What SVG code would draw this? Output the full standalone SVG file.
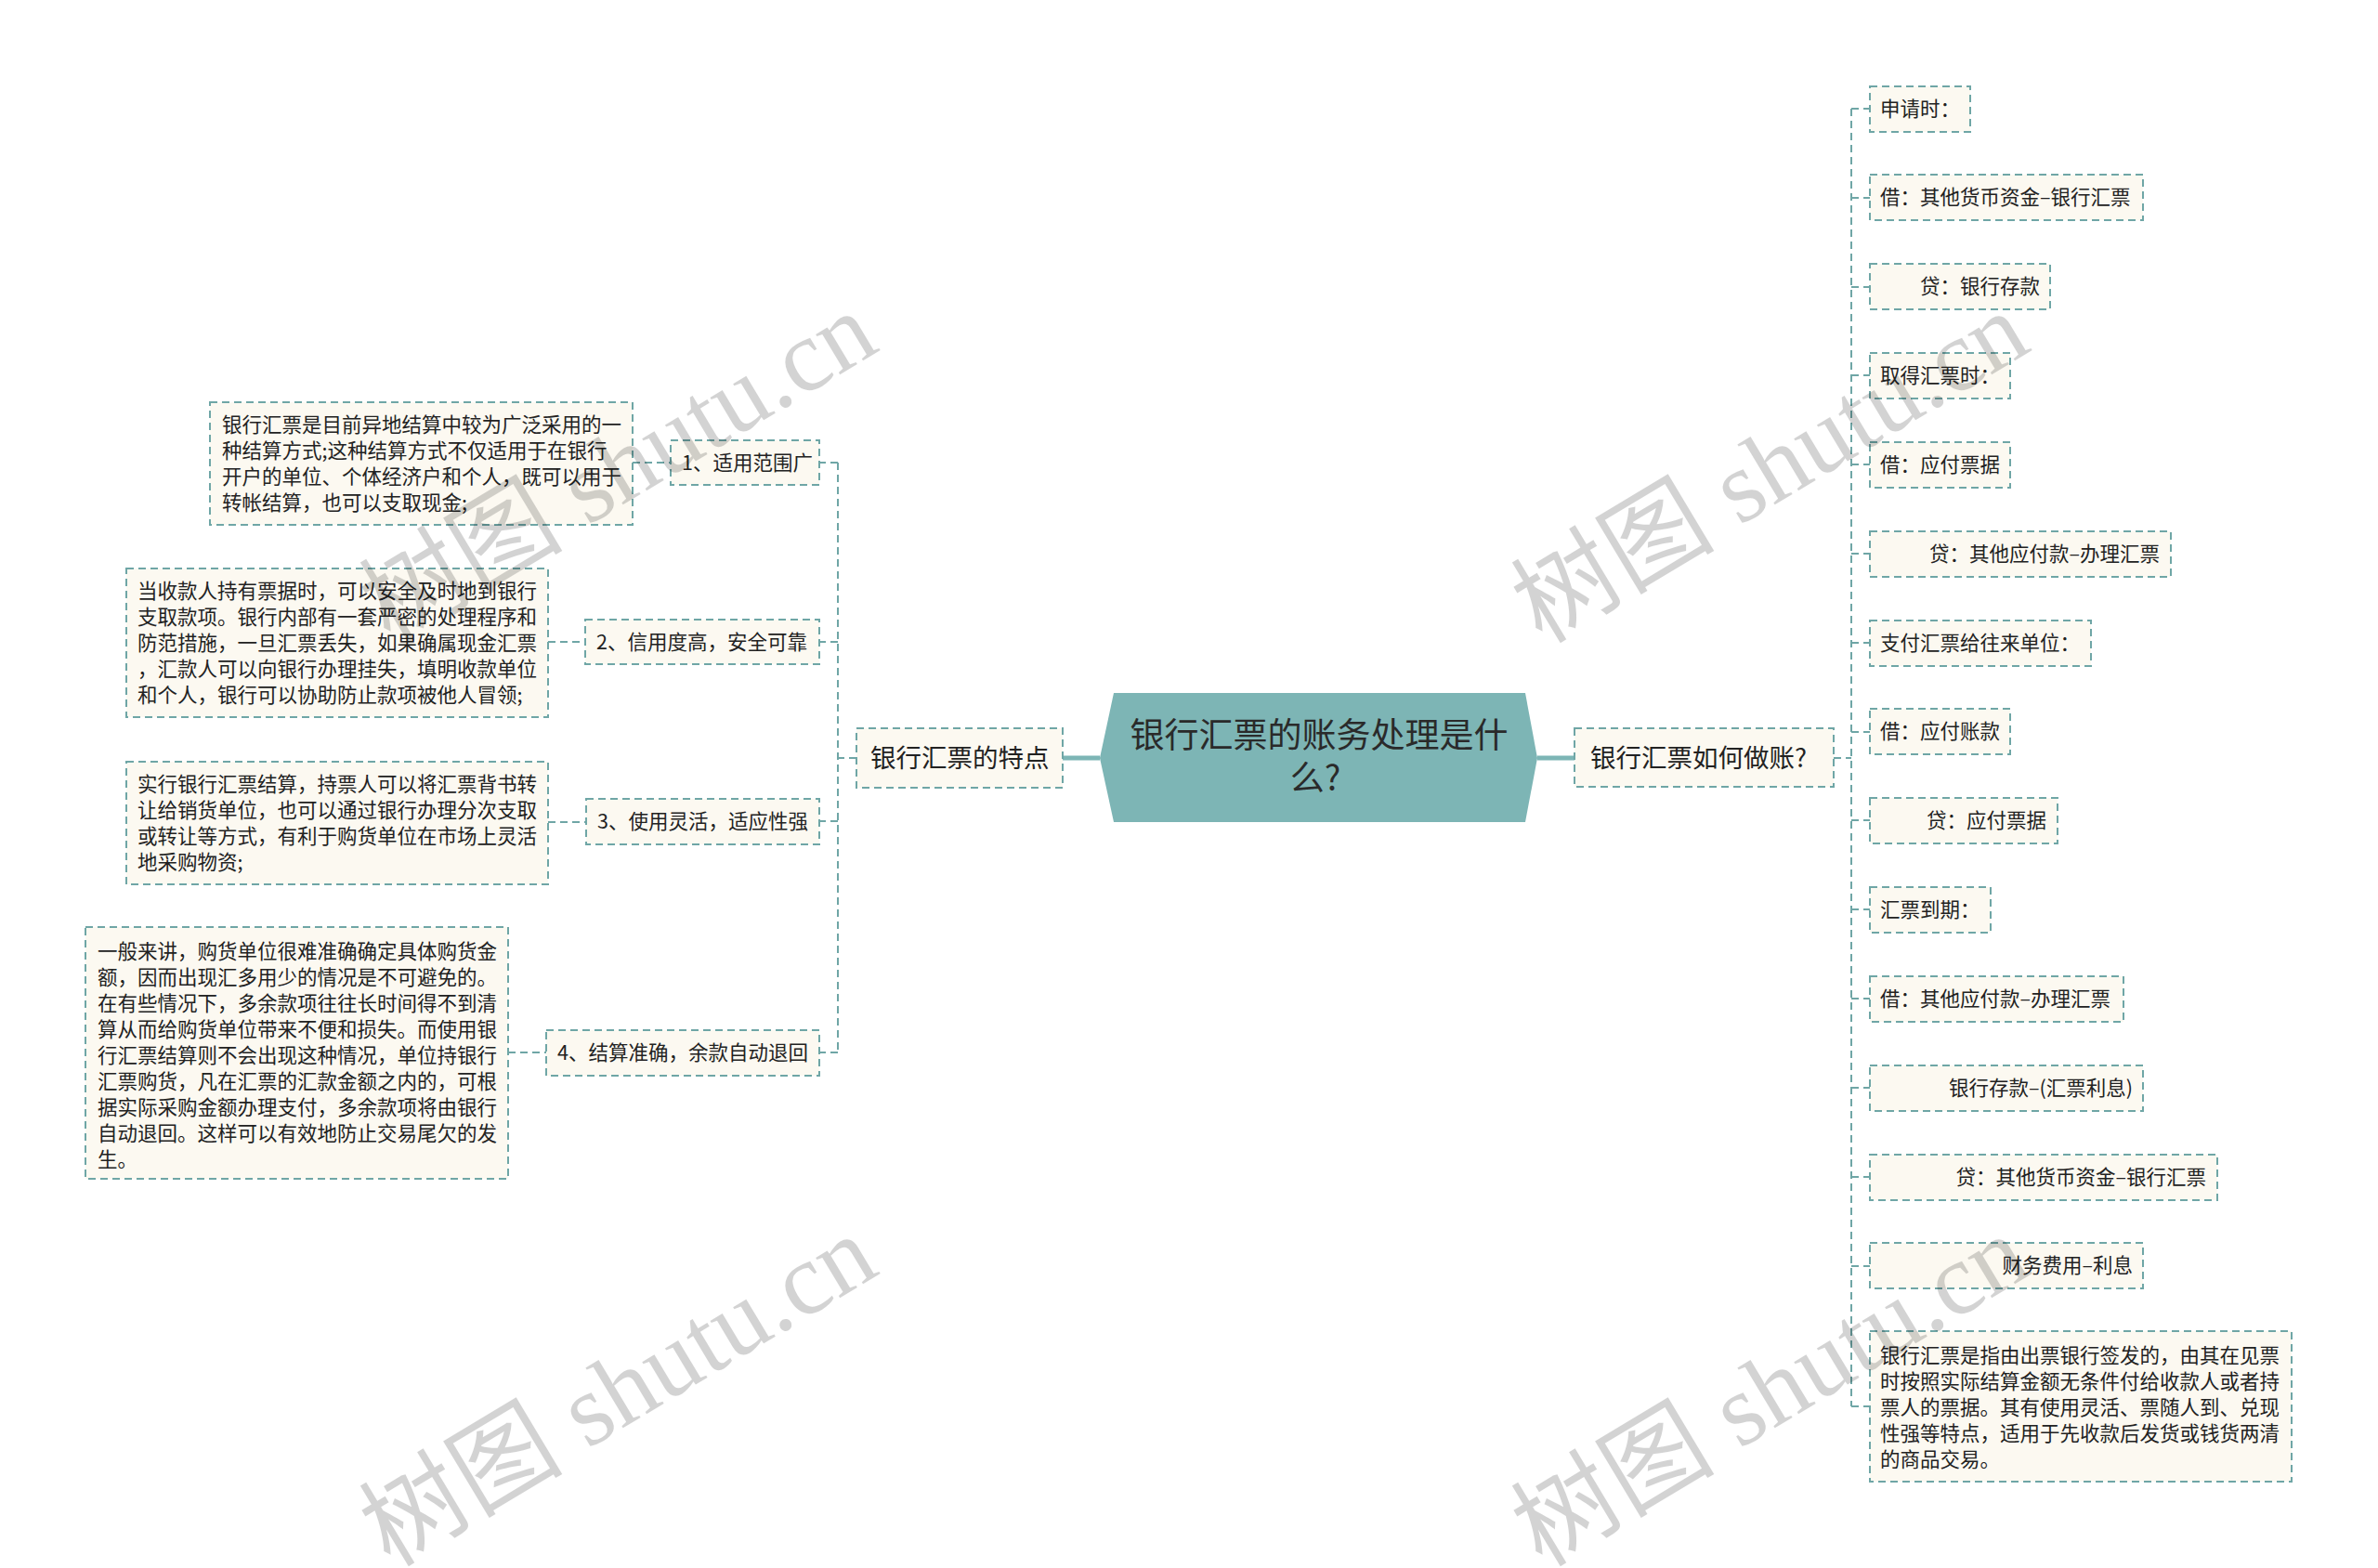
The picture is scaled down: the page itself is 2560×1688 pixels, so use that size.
<svg xmlns="http://www.w3.org/2000/svg" width="2560" height="1688" viewBox="0 0 2560 1688">
<style>
.bg{fill:#ffffff}
.box{fill:#fcf9f1;stroke:#6fa6a6;stroke-width:2;stroke-dasharray:8 5}
.con{fill:none;stroke:#6fa6a6;stroke-width:2;stroke-dasharray:8 5}
.thick{fill:none;stroke:#7db5b5;stroke-width:5}
.t{font-family:"Noto Sans CJK SC","Noto Sans",sans-serif;font-size:21.5px;fill:#222}
.t1{font-family:"Noto Sans CJK SC","Noto Sans",sans-serif;font-size:27.5px;fill:#222}
.t0{font-family:"Noto Sans CJK SC","Noto Sans",sans-serif;font-size:37px;fill:#2a2a2a}
.e{text-anchor:end}
.wm{font-family:"Liberation Serif","Noto Sans CJK SC",serif;font-size:110px;fill:#000;opacity:0.17}
</style>
<rect class="bg" x="0" y="0" width="2560" height="1688"/>

<g id="connectors">
<path class="thick" d="M1144,816 H1184"/>
<path class="thick" d="M1655,816 H1695"/>
<path class="con" d="M922,816 H902"/>
<path class="con" d="M902,498 V1133"/>
<path class="con" d="M902,498 H882"/>
<path class="con" d="M902,691 H882"/>
<path class="con" d="M902,884 H882"/>
<path class="con" d="M902,1133 H882"/>
<path class="con" d="M681,498 H722"/>
<path class="con" d="M590,691 H630"/>
<path class="con" d="M590,885 H631"/>
<path class="con" d="M547,1133 H588"/>
<path class="con" d="M1974,816 H1993"/>
<path class="con" d="M1993,117 V1514"/>
<path class="con" d="M1993,117 H2013"/>
<path class="con" d="M1993,213 H2013"/>
<path class="con" d="M1993,309 H2013"/>
<path class="con" d="M1993,404 H2013"/>
<path class="con" d="M1993,500 H2013"/>
<path class="con" d="M1993,596 H2013"/>
<path class="con" d="M1993,692 H2013"/>
<path class="con" d="M1993,788 H2013"/>
<path class="con" d="M1993,883 H2013"/>
<path class="con" d="M1993,979 H2013"/>
<path class="con" d="M1993,1075 H2013"/>
<path class="con" d="M1993,1171 H2013"/>
<path class="con" d="M1993,1267 H2013"/>
<path class="con" d="M1993,1363 H2013"/>
<path class="con" d="M1993,1514 H2013"/>
</g>

<g id="root">
<polygon points="1184,816 1199,746 1642,746 1655,816 1642,885 1199,885" fill="#7db5b5"/>
<text class="t0" x="1420" y="805" text-anchor="middle">银行汇票的账务处理是什</text>
<text class="t0" x="1416" y="851" text-anchor="middle">么?</text>
</g>

<g id="n-left">
<rect class="box" x="922" y="784" width="222" height="64"/>
<text class="t1" x="937" y="826">银行汇票的特点</text>
</g>
<g id="n-right">
<rect class="box" x="1695" y="784" width="279" height="63"/>
<text class="t1" x="1712" y="826">银行汇票如何做账?</text>
</g>

<g id="l1">
<rect class="box" x="722" y="474" width="160" height="48"/>
<text class="t" x="734" y="506">1、适用范围广</text>
</g>
<g id="l1d">
<rect class="box" x="226" y="433" width="455" height="132"/>
<text class="t" x="239" y="465">银行汇票是目前异地结算中较为广泛采用的一</text>
<text class="t" x="239" y="493">种结算方式;这种结算方式不仅适用于在银行</text>
<text class="t" x="239" y="521">开户的单位、个体经济户和个人，既可以用于</text>
<text class="t" x="239" y="549">转帐结算，也可以支取现金;</text>
</g>
<g id="l2">
<rect class="box" x="630" y="667" width="252" height="48"/>
<text class="t" x="642" y="699">2、信用度高，安全可靠</text>
</g>
<g id="l2d">
<rect class="box" x="136" y="612" width="454" height="160"/>
<text class="t" x="148" y="644">当收款人持有票据时，可以安全及时地到银行</text>
<text class="t" x="148" y="672">支取款项。银行内部有一套严密的处理程序和</text>
<text class="t" x="148" y="700">防范措施，一旦汇票丢失，如果确属现金汇票</text>
<text class="t" x="148" y="728">，汇款人可以向银行办理挂失，填明收款单位</text>
<text class="t" x="148" y="756">和个人，银行可以协助防止款项被他人冒领;</text>
</g>
<g id="l3">
<rect class="box" x="631" y="860" width="251" height="49"/>
<text class="t" x="643" y="892">3、使用灵活，适应性强</text>
</g>
<g id="l3d">
<rect class="box" x="136" y="820" width="454" height="132"/>
<text class="t" x="148" y="852">实行银行汇票结算，持票人可以将汇票背书转</text>
<text class="t" x="148" y="880">让给销货单位，也可以通过银行办理分次支取</text>
<text class="t" x="148" y="908">或转让等方式，有利于购货单位在市场上灵活</text>
<text class="t" x="148" y="936">地采购物资;</text>
</g>
<g id="l4">
<rect class="box" x="588" y="1109" width="294" height="49"/>
<text class="t" x="600" y="1141">4、结算准确，余款自动退回</text>
</g>
<g id="l4d">
<rect class="box" x="92" y="998" width="455" height="271"/>
<text class="t" x="105" y="1032">一般来讲，购货单位很难准确确定具体购货金</text>
<text class="t" x="105" y="1060">额，因而出现汇多用少的情况是不可避免的。</text>
<text class="t" x="105" y="1088">在有些情况下，多余款项往往长时间得不到清</text>
<text class="t" x="105" y="1116">算从而给购货单位带来不便和损失。而使用银</text>
<text class="t" x="105" y="1144">行汇票结算则不会出现这种情况，单位持银行</text>
<text class="t" x="105" y="1172">汇票购货，凡在汇票的汇款金额之内的，可根</text>
<text class="t" x="105" y="1200">据实际采购金额办理支付，多余款项将由银行</text>
<text class="t" x="105" y="1228">自动退回。这样可以有效地防止交易尾欠的发</text>
<text class="t" x="105" y="1256">生。</text>
</g>

<g id="r1"><rect class="box" x="2013" y="93" width="108" height="49"/><text class="t" x="2024" y="125">申请时：</text></g>
<g id="r2"><rect class="box" x="2013" y="188" width="294" height="49"/><text class="t" x="2024" y="220">借：其他货币资金–银行汇票</text></g>
<g id="r3"><rect class="box" x="2013" y="284" width="194" height="49"/><text class="t e" x="2196" y="316">贷：银行存款</text></g>
<g id="r4"><rect class="box" x="2013" y="380" width="151" height="49"/><text class="t" x="2024" y="412">取得汇票时：</text></g>
<g id="r5"><rect class="box" x="2013" y="476" width="151" height="49"/><text class="t" x="2024" y="508">借：应付票据</text></g>
<g id="r6"><rect class="box" x="2013" y="572" width="324" height="49"/><text class="t e" x="2325" y="604">贷：其他应付款–办理汇票</text></g>
<g id="r7"><rect class="box" x="2013" y="668" width="238" height="49"/><text class="t" x="2024" y="700">支付汇票给往来单位：</text></g>
<g id="r8"><rect class="box" x="2013" y="763" width="151" height="49"/><text class="t" x="2024" y="795">借：应付账款</text></g>
<g id="r9"><rect class="box" x="2013" y="859" width="202" height="49"/><text class="t e" x="2203" y="891">贷：应付票据</text></g>
<g id="r10"><rect class="box" x="2013" y="955" width="130" height="49"/><text class="t" x="2024" y="987">汇票到期：</text></g>
<g id="r11"><rect class="box" x="2013" y="1051" width="273" height="49"/><text class="t" x="2024" y="1083">借：其他应付款–办理汇票</text></g>
<g id="r12"><rect class="box" x="2013" y="1147" width="294" height="49"/><text class="t e" x="2296" y="1179">银行存款–(汇票利息)</text></g>
<g id="r13"><rect class="box" x="2013" y="1243" width="374" height="49"/><text class="t e" x="2375" y="1275">贷：其他货币资金–银行汇票</text></g>
<g id="r14"><rect class="box" x="2013" y="1338" width="294" height="49"/><text class="t e" x="2296" y="1370">财务费用–利息</text></g>
<g id="r15">
<rect class="box" x="2013" y="1433" width="454" height="162"/>
<text class="t" x="2024" y="1467">银行汇票是指由出票银行签发的，由其在见票</text>
<text class="t" x="2024" y="1495">时按照实际结算金额无条件付给收款人或者持</text>
<text class="t" x="2024" y="1523">票人的票据。其有使用灵活、票随人到、兑现</text>
<text class="t" x="2024" y="1551">性强等特点，适用于先收款后发货或钱货两清</text>
<text class="t" x="2024" y="1579">的商品交易。</text>
</g>

<g id="watermarks">
<text class="wm" transform="translate(420,694) rotate(-31)">树图 shutu.cn</text>
<text class="wm" transform="translate(1660,694) rotate(-31)">树图 shutu.cn</text>
<text class="wm" transform="translate(420,1688) rotate(-31)">树图 shutu.cn</text>
<text class="wm" transform="translate(1660,1688) rotate(-31)">树图 shutu.cn</text>
</g>
</svg>
